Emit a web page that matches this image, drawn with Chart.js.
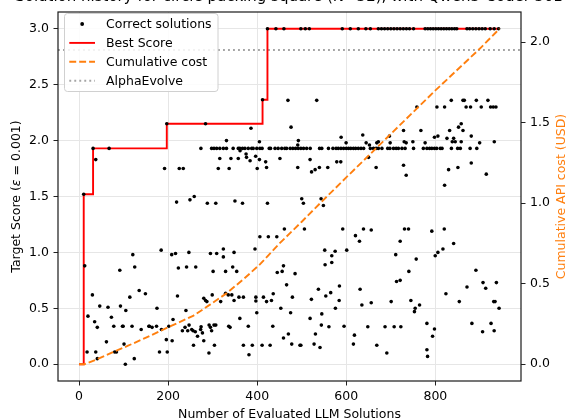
<!DOCTYPE html>
<html>
<head>
<meta charset="utf-8">
<script src="https://cdn.jsdelivr.net/npm/chart.js@4.4.1/dist/chart.umd.min.js"></script>
<style>
  html, body { margin: 0; padding: 0; background: #fff; }
  canvas { display: block; }
</style>
</head>
<body>
<canvas id="historyChart" width="569" height="420"></canvas>
<script>
const RED = "#ff0000";
const ORANGE = "#ff7f0e";
const GREY = "#a5a5a5";
const FONT = '"DejaVu Sans", sans-serif';

const titleText = "Solution history for circle packing square (N=32), with Qwen3-Coder-30B";

// axis ticks
const xTicks = [0, 200, 400, 600, 800];
const scoreTicks = [0, 0.5, 1, 1.5, 2, 2.5, 3];
const costTicks = [0, 0.5, 1, 1.5, 2];

// solutions that reached the 3.0 ceiling
const topRowN = [423, 442, 460, 498, 508, 517, 591, 609, 627, 644, 654, 672, 679, 686, 693, 700, 707, 714, 721,
    728, 735, 742, 751, 777, 783, 789, 795, 801, 807, 813, 819, 825, 831, 837, 843, 848, 871, 877, 884, 891,
    898, 905, 912, 923, 932, 942];
const topRowScore = 3.0;

// solutions stuck on the 1.93 plateau
const plateauN = [31.5, 67.5, 273.6, 297.6, 303, 309, 316, 324, 331, 346, 357.5, 361, 367, 372.5, 380, 387.6, 391,
    399, 406, 411, 427, 430, 440, 447, 455, 462, 466, 474, 480, 486, 492, 498, 504, 511, 519, 540, 545, 560, 570,
    577, 582, 588, 594, 600, 605, 610, 616, 621, 627, 633, 639, 654, 661, 667, 672, 680, 693, 698, 706, 712, 717,
    725, 732, 751, 773, 781, 787, 792, 798, 803, 811, 815, 836, 850, 856, 878, 893];
const plateauScore = 1.93;

// all other correct solutions: [solution index, score]
const otherSolutions = [
    [10.5, 1.52], [12.7, 0.88], [18, 0.11], [20, 0.43], [30, 0.62], [35, 0.38], [37.5, 1.83], [37.5, 0.11],
    [41, 0.33], [41, 0.05], [46.5, 0.52], [61.5, 0.20], [65, 0.51], [72.7, 0.42], [78, 0.34], [80, 0.11],
    [84, 0.11], [91.5, 0.84], [93, 0.52], [97.5, 0.34], [99, 0.34], [101, 0.18], [104, 0.0], [105, 0.48],
    [114, 0.60], [119, 0.34], [120.7, 0.98], [124, 0.05], [125, 0.87], [135, 0.66], [139.5, 0.31], [149, 0.63],
    [156.7, 0.34], [158, 0.34], [164, 0.33], [174, 0.34], [175, 0.50], [180.6, 0.11], [184.4, 1.02], [185, 0.31],
    [192, 1.75], [196, 0.22], [197, 2.15], [198, 0.11], [201.6, 0.34], [208, 0.98], [209, 0.21], [211, 0.40],
    [216.6, 0.99], [219, 1.45], [221, 0.61], [223, 0.86], [225, 1.75], [234, 1.75], [240, 0.48], [241.4, 0.87],
    [246.6, 1.0], [249, 1.47], [258.6, 1.50], [262, 0.87],
    [232, 0.30], [238, 0.33], [244, 0.30], [247, 0.35], [253, 0.31], [256, 0.30], [257, 0.17], [261, 0.29],
    [266, 0.25], [273, 0.31], [274, 0.335], [277, 0.28], [280, 0.21],
    [284, 2.15], [288, 1.44], [307, 1.44], [312.6, 1.75], [316, 1.84], [331, 2.0], [337, 1.75], [341, 1.84],
    [350, 1.46], [357.5, 1.84], [361.5, 1.91], [367, 1.44], [375, 1.88], [376, 1.85], [384, 1.82], [386, 2.11],
    [396.5, 1.86], [400, 1.75], [405, 1.83], [405, 1.99], [412, 2.365], [419, 1.81], [421, 1.76], [423, 1.44],
    [451, 1.84], [469, 2.36], [476, 2.12], [491, 1.96], [491, 1.76],
    [280, 0.59], [284, 0.57], [287, 0.56], [292, 0.35], [295, 0.33], [295, 0.99], [297.6, 0.30], [299, 0.62],
    [301, 0.83], [303, 0.35], [304, 0.17], [307, 0.35], [309, 0.99], [291.6, 0.10], [318, 0.56], [324, 1.03],
    [324, 0.96], [329, 0.83], [329, 0.635], [335, 0.62], [336, 0.34], [339, 0.33], [343, 0.62], [345, 0.87],
    [348, 1.0], [348, 0.57], [354, 0.83], [359, 0.60], [361, 0.41], [369, 0.60], [369, 0.17], [380, 0.34],
    [381.5, 0.085], [389, 0.17], [395, 1.03], [397, 0.60], [397, 0.565], [399, 0.46], [406, 1.14], [411, 0.17],
    [414, 0.60], [421, 0.56], [425, 1.14], [429, 0.17], [432, 0.57], [435, 0.34], [436, 0.63], [444, 1.14],
    [445, 0.82], [453, 0.50], [456, 0.83], [459, 0.88], [459, 0.235], [461, 1.21], [466, 0.71], [470, 0.27],
    [475, 0.46], [477.5, 0.18], [479, 0.60], [485, 0.81], [496, 0.17],
    [492.4, 2.0], [500, 1.48], [503.7, 1.44], [518.7, 1.83], [522, 1.72], [530, 1.74], [533.6, 2.36],
    [539.6, 1.76], [543.4, 1.48], [548.6, 1.42], [558.4, 1.76], [578.6, 1.81], [587.6, 1.81], [588.4, 2.03],
    [599.6, 1.98], [637, 2.05], [644.6, 1.98], [652, 1.96], [650, 1.85], [667, 1.76], [668.5, 1.98], [672, 1.99],
    [697, 2.04], [698.5, 1.98], [728.5, 2.09], [730, 1.99], [734.5, 1.98], [728.5, 1.78], [734.5, 1.69],
    [749.5, 1.99], [758.5, 2.30], [767.5, 2.09], [777, 1.98], [798, 2.03], [803.5, 2.30], [805.7, 2.04],
    [820.7, 1.60], [820.7, 2.30], [826, 2.02], [829.7, 1.74], [832, 2.09], [835.7, 2.36], [838, 1.99],
    [841, 2.02], [844.6, 1.99], [850.6, 1.76], [852, 2.12], [858, 2.15], [858, 1.99], [862, 2.09], [862, 2.36],
    [865, 2.36], [869, 2.30], [879, 2.30], [880.6, 2.04], [880.6, 1.80], [892, 2.36], [899.4, 1.98], [903, 2.30],
    [914.3, 1.70], [918, 2.36], [924, 2.30], [930, 2.30], [932.3, 1.99], [936, 2.30],
    [498, 0.17], [506, 1.21], [518.7, 0.41], [521.7, 0.58], [527.7, 0.18], [530.7, 0.27], [537.4, 0.67],
    [541, 0.15], [545, 0.45], [544, 0.35], [551.6, 1.02], [552.4, 0.89], [554, 0.61], [561, 0.335], [565, 0.64],
    [567.4, 0.97], [567.4, 0.91], [575, 1.01], [575.6, 0.50], [584, 0.57], [584.6, 0.70], [592, 1.21],
    [595, 0.34], [601, 1.02], [616, 0.18], [618.3, 0.26], [620.6, 1.15], [629.6, 1.10], [631, 0.67], [635, 0.53],
    [638.6, 1.21], [648.3, 0.335], [656, 1.2], [656, 0.55], [668.5, 0.17], [687, 0.335], [691, 0.10],
    [700.8, 0.56], [707.5, 0.335], [711, 0.98], [712.8, 0.74], [721, 0.75], [721, 1.10], [722.5, 0.335],
    [730.7, 1.21], [739.7, 1.21], [740.5, 0.83], [745, 0.57], [753, 0.47], [754.7, 0.50], [757, 0.94],
    [764.5, 0.53], [781, 0.365], [781, 0.13], [782.5, 0.07], [792, 1.19], [793.7, 0.25], [798, 0.315],
    [799.7, 0.97], [805.7, 1.0], [817, 1.03], [820, 1.21], [823.7, 0.63], [841, 1.08], [853.7, 0.56], [871, 0.69],
    [882, 0.365], [891, 0.84], [906, 0.29], [907, 0.73], [913, 0.68], [925, 0.365], [931, 0.56], [934, 0.56],
    [932, 0.30], [937, 0.73], [943, 0.50]
];

// running best score (step line)
const bestN = [0, 10.5, 31.5, 197, 412, 423, 945];
const bestScore = [0, 1.52, 1.93, 2.15, 2.365, 3.0, 3.0];

// cumulative API spend, right axis
const costN = [0, 12, 40, 76, 110, 144, 181, 220, 256, 294, 331, 370, 406, 450, 500, 545, 600, 700, 800, 900, 944];
const costUsd = [0, 0, 0.03, 0.075, 0.115, 0.157, 0.205, 0.255, 0.30, 0.37, 0.44, 0.53, 0.62, 0.75, 0.885, 1.01,
    1.16, 1.43, 1.70, 1.96, 2.083];

const alphaEvolveScore = 2.81;

const X_MIN = -47.25, X_MAX = 992.25;
const LINE_W = 1.9;

const solutionPoints = [
    ...topRowN.map(n => ({ x: n, y: topRowScore })),
    ...plateauN.map(n => ({ x: n, y: plateauScore })),
    ...otherSolutions.map(([n, s]) => ({ x: n, y: s }))
];

const fixedTicks = values => scale => { scale.ticks = values.map(v => ({ value: v })); };

const decorations = {
    id: "decorations",
    afterDraw(chart) {
        const { ctx, chartArea: a } = chart;
        const midX = (a.left + a.right) / 2;
        const midY = (a.top + a.bottom) / 2;
        ctx.save();

        // axes frame
        ctx.strokeStyle = "#1a1a1a";
        ctx.lineWidth = 1.2;
        ctx.strokeRect(a.left, a.top, a.right - a.left, a.bottom - a.top);

        // axis titles
        ctx.textBaseline = "alphabetic";
        ctx.fillStyle = "#000";
        ctx.font = `12.5px ${FONT}`;
        ctx.textAlign = "center";
        ctx.fillText("Number of Evaluated LLM Solutions", midX, 417.5);

        // left title with an italic epsilon
        const parts = [["Target Score (", ""], ["ε", "italic "], [" = 0.001)", ""]];
        const widths = parts.map(([t, st]) => { ctx.font = `${st}12.5px ${FONT}`; return ctx.measureText(t).width; });
        const total = widths.reduce((p, w) => p + w, 0);
        ctx.save();
        ctx.translate(20, midY);
        ctx.rotate(-Math.PI / 2);
        ctx.textAlign = "left";
        let pos = -total / 2;
        parts.forEach(([t, st], i) => {
            ctx.font = `${st}12.5px ${FONT}`;
            ctx.fillText(t, pos, 0);
            pos += widths[i];
        });
        ctx.restore();

        ctx.save();
        ctx.font = `12.5px ${FONT}`;
        ctx.fillStyle = ORANGE;
        ctx.translate(564.5, midY);
        ctx.rotate(-Math.PI / 2);
        ctx.fillText("Cumulative API cost (USD)", 0, 0);
        ctx.restore();

        // figure title, mostly cut off by the top edge
        ctx.font = `15px ${FONT}`;
        ctx.fillStyle = "#000";
        ctx.textAlign = "center";
        ctx.fillText(titleText, midX, 1.2);

        // legend
        const lx = 64.5, ly = 13.5, lw = 153.5, lh = 78;
        ctx.beginPath();
        ctx.roundRect(lx, ly, lw, lh, 3);
        ctx.fillStyle = "rgba(255,255,255,0.85)";
        ctx.fill();
        ctx.strokeStyle = "#d0d0d0";
        ctx.lineWidth = 1;
        ctx.stroke();

        const labels = chart.data.datasets.map(d => d.label);
        const hx0 = 69.3, hx1 = 95, textX = 106;
        ctx.font = `12.5px ${FONT}`;
        ctx.textAlign = "left";
        labels.forEach((label, i) => {
            const base = 28.3 + 18.9 * i;
            const cy = base - 4.3;
            const ds = chart.data.datasets[i];
            if (i === 0) {
                ctx.beginPath();
                ctx.arc((hx0 + hx1) / 2, cy, 1.9, 0, Math.PI * 2);
                ctx.fillStyle = "#000";
                ctx.fill();
            } else {
                ctx.beginPath();
                ctx.setLineDash(ds.borderDash || []);
                ctx.strokeStyle = ds.borderColor;
                ctx.lineWidth = ds.borderWidth;
                ctx.moveTo(hx0, cy);
                ctx.lineTo(hx1, cy);
                ctx.stroke();
                ctx.setLineDash([]);
            }
            ctx.fillStyle = "#000";
            ctx.fillText(label, textX, base);
        });

        ctx.restore();
    }
};

Chart.defaults.font.family = FONT;
Chart.defaults.font.size = 12.5;
Chart.defaults.color = "#000";

new Chart(document.getElementById("historyChart"), {
    type: "scatter",
    data: {
        datasets: [
            {
                label: "Correct solutions",
                data: solutionPoints,
                backgroundColor: "#000",
                borderColor: "#000",
                pointRadius: 1.8,
                pointBorderWidth: 0,
                showLine: false,
                order: 1
            },
            {
                label: "Best Score",
                data: bestN.map((n, i) => ({ x: n, y: bestScore[i] })),
                showLine: true,
                stepped: true,
                borderColor: RED,
                borderWidth: LINE_W,
                pointRadius: 0,
                order: 2
            },
            {
                label: "Cumulative cost",
                data: costN.map((n, i) => ({ x: n, y: costUsd[i] })),
                yAxisID: "y2",
                showLine: true,
                borderColor: ORANGE,
                borderWidth: LINE_W,
                borderDash: [6.9, 3],
                pointRadius: 0,
                order: 0
            },
            {
                label: "AlphaEvolve",
                data: [{ x: X_MIN, y: alphaEvolveScore }, { x: X_MAX, y: alphaEvolveScore }],
                showLine: true,
                borderColor: GREY,
                borderWidth: LINE_W,
                borderDash: [1.9, 3.1],
                pointRadius: 0,
                order: 3
            }
        ]
    },
    options: {
        responsive: false,
        animation: false,
        devicePixelRatio: 1,
        layout: { padding: { top: 7, left: 0, right: 0, bottom: 0 } },
        plugins: {
            legend: { display: false },
            tooltip: { enabled: false }
        },
        scales: {
            x: {
                type: "linear",
                min: X_MIN,
                max: X_MAX,
                afterBuildTicks: fixedTicks(xTicks),
                afterFit: s => { s.height = 39; },
                ticks: { padding: 4, callback: v => String(v), maxRotation: 0 },
                grid: { color: "#e6e6e6", lineWidth: 1, tickColor: "#222", tickLength: 4.5, tickWidth: 1 },
                border: { display: false }
            },
            y: {
                position: "left",
                min: -0.15,
                max: 3.15,
                afterBuildTicks: fixedTicks(scoreTicks),
                afterFit: s => { s.width = 58; },
                ticks: { padding: 4.5, callback: v => v.toFixed(1) },
                grid: { color: "#e6e6e6", lineWidth: 1, tickColor: "#222", tickLength: 4.5, tickWidth: 1 },
                border: { display: false }
            },
            y2: {
                position: "right",
                min: -0.104,
                max: 2.187,
                afterBuildTicks: fixedTicks(costTicks),
                afterFit: s => { s.width = 48; },
                ticks: { padding: 4.5, callback: v => v.toFixed(1) },
                grid: { drawOnChartArea: false, tickColor: "#222", tickLength: 4.5, tickWidth: 1 },
                border: { display: false }
            }
        }
    },
    plugins: [decorations]
});
</script>
</body>
</html>
